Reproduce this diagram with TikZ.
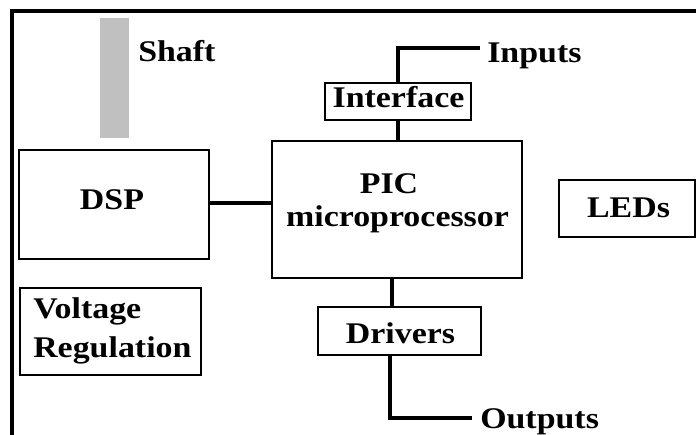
\documentclass[tikz,border=0pt]{standalone}
\usepackage{fontspec}
\setmainfont{Liberation Serif}[FakeStretch=1.13]
\usetikzlibrary{calc}
\begin{document}
\begin{tikzpicture}[x=0.75pt,y=-0.75pt,
  box/.style={draw=black,line width=1.5pt,minimum width=#1,inner sep=0pt},
  lbl/.style={inner sep=0pt,font=\fontsize{22.5}{29}\selectfont\bfseries},
  wire/.style={line width=3.2pt,line join=miter}]
\useasboundingbox (0,0) rectangle (696,435);
\clip (0,0) rectangle (696,435);
\fill[white] (0,0) rectangle (696,435);
% outer frame
\draw[line width=2.3pt] (12,470) -- (12,11) -- (720,11);
% shaft
\fill[fill={rgb,255:red,192;green,192;blue,192}] (100,18) rectangle (129,138);
\node[lbl,anchor=base west] (shaft) at (138,62) {Shaft};
% boxes
\node[box=142.5pt,minimum height=81.75pt] (dsp) at (114,204.5) {};
\node[box=187.5pt,minimum height=102.75pt] (pic) at (397,209.5) {};
\node[box=109.5pt,minimum height=27.75pt] (iface) at (398,101.5) {};
\node[box=102pt,minimum height=42.75pt] (leds) at (627,208.5) {};
\node[box=135.75pt,minimum height=65.25pt] (volt) at (110.5,331.5) {};
\node[box=122.25pt,minimum height=36pt] (drv) at (399.5,331) {};
% texts
\node[lbl,anchor=base] (tdsp) at (112,209) {DSP};
\node[lbl,anchor=base] (tpic) at (389,193) {PIC};
\node[lbl,anchor=base] (tmic) at (397.5,226) {microprocessor};
\node[lbl,anchor=base] (tif) at (398.5,108) {Interface};
\node[lbl,anchor=base] (tled) at (628.5,217) {LEDs};
\node[lbl,anchor=base west] (tvol) at (33,318) {Voltage};
\node[lbl,anchor=base west] (treg) at (33,357) {Regulation};
\node[lbl,anchor=base] (tdrv) at (400.5,343) {Drivers};
\node[lbl,anchor=base west] (tin) at (487,63) {Inputs};
\node[lbl,anchor=base west] (tout) at (480,428) {Outputs};
% connectors
\coordinate (inend) at (480,48);
\coordinate (outend) at (472,418);
\draw[wire] (dsp.east) ++(0,-1.5) coordinate (dc) -- (dc -| pic.west);
\draw[wire] (iface.north) |- (inend);
\draw[wire] (iface.south) -- (iface.south |- pic.north);
\draw[wire] (drv.north) ++(-7.5,0) coordinate (dn) -- (dn |- pic.south);
\draw[wire] (drv.south) ++(-9.5,0) coordinate (ds) |- (outend);
\end{tikzpicture}
\end{document}
